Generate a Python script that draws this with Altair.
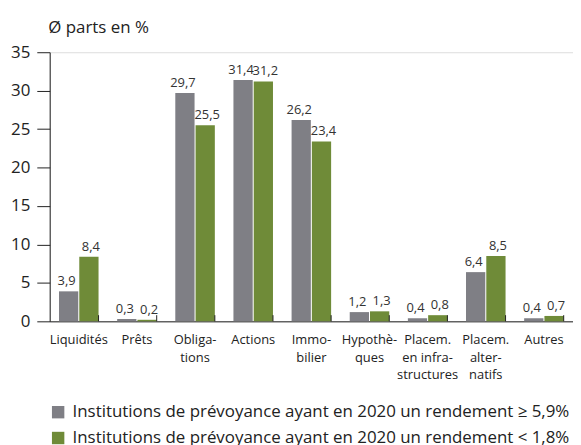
import altair as alt
import pandas as pd

categories = ["Liquidités", "Prêts", "Obliga-|tions", "Actions", "Immo-|bilier",
              "Hypothè-|ques", "Placem.|en infra-|structures", "Placem.|alter-|natifs", "Autres"]
series_names = ["Institutions de prévoyance ayant en 2020 un rendement ≥ 5,9%",
                "Institutions de prévoyance ayant en 2020 un rendement < 1,8%"]
high_return = [3.9, 0.3, 29.7, 31.4, 26.2, 1.2, 0.4, 6.4, 0.4]
low_return = [8.4, 0.2, 25.5, 31.2, 23.4, 1.3, 0.8, 8.5, 0.7]
y_ticks = [0, 5, 10, 15, 20, 25, 30, 35]
colors = ["#7f7f85", "#6f8b38"]

rows = []
for c, a, b in zip(categories, high_return, low_return):
    rows.append({"cat": c, "series": series_names[0], "v": a})
    rows.append({"cat": c, "series": series_names[1], "v": b})
df = pd.DataFrame(rows)
ticks_df = pd.DataFrame({"cat": categories})

FONT = "Open Sans"

x_axis = alt.Axis(title=None, labelAngle=0, ticks=False, domainColor="#222",
                  labelExpr="split(datum.label, '|')", labelFontSize=13,
                  labelLineHeight=18, labelPadding=12, labelColor="#222",
                  labelFont=FONT)
x_scale = alt.Scale(paddingInner=0.32, paddingOuter=0.16)
x_enc = alt.X("cat:N", sort=categories, scale=x_scale, axis=x_axis)
xo = alt.XOffset("series:N", sort=series_names,
                 scale=alt.Scale(paddingInner=0.05, paddingOuter=0))

y_axis = alt.Axis(values=y_ticks, grid=False, labelOverlap=False,
                  title="Ø parts en %", titleAngle=0, titleAlign="left",
                  titleBaseline="middle", titleX=-2, titleY=-25,
                  titleFontSize=17, titleFontWeight="normal", titleFont=FONT,
                  titleColor="#222",
                  tickSize=13, tickColor="#222", domainColor="#222",
                  labelFontSize=17, labelPadding=7, labelColor="#222",
                  labelFont=FONT)
y_scale = alt.Scale(domain=[0, 35])
y_enc = alt.Y("v:Q", scale=y_scale, axis=y_axis)

color_enc = alt.Color("series:N", sort=series_names,
                      scale=alt.Scale(domain=series_names, range=colors),
                      legend=alt.Legend(title=None, orient="none", legendX=0, legendY=354,
                                        symbolType="square", symbolSize=156,
                                        symbolStrokeWidth=0, labelFontSize=17,
                                        labelFont=FONT, labelColor="#222",
                                        labelLimit=0, labelOffset=6, rowPadding=8,
                                        direction="vertical"))

bars = alt.Chart(df).mark_bar().encode(x=x_enc, xOffset=xo, y=y_enc, color=color_enc)


def label_layer(series, dx):
    return alt.Chart(df).transform_filter(
        alt.datum.series == series
    ).transform_calculate(
        lab="replace(format(datum.v, '.1f'), '.', ',')"
    ).mark_text(baseline="bottom", dy=-3, dx=dx, fontSize=13, font=FONT, color="#333").encode(
        x=x_enc, xOffset=xo, y=y_enc, text="lab:N")


labels_a = label_layer(series_names[0], -2)
labels_b = label_layer(series_names[1], 2)

ticks = alt.Chart(ticks_df).mark_rule(color="#222", strokeWidth=1).encode(
    x=alt.X("cat:N", sort=categories, bandPosition=1, scale=x_scale, axis=x_axis),
    y=alt.datum(0, scale=y_scale, axis=y_axis), y2=alt.datum(0.8))

chart = alt.layer(bars, labels_a, labels_b, ticks).properties(
    width=527, height=271,
    autosize=alt.AutoSizeParams(type="none"),
    padding={"left": 42, "top": 43, "right": 0, "bottom": 123},
).configure_view(stroke=None).configure(font=FONT)

chart.save("out.html", embed_options={"renderer": "svg", "actions": False})
